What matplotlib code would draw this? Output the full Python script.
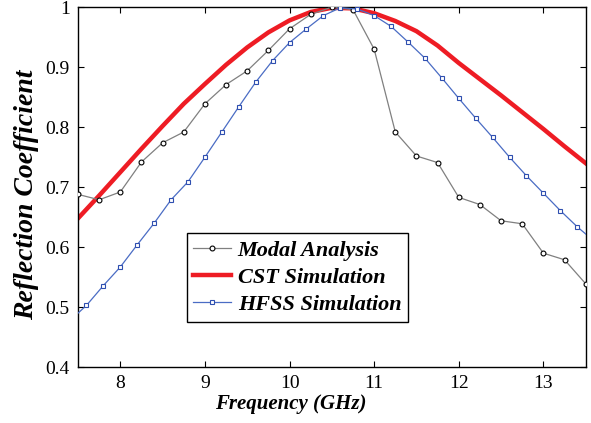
import numpy as np
import matplotlib.pyplot as plt

plt.rcParams['font.family'] = ['Liberation Serif', 'DejaVu Serif']
plt.rcParams['mathtext.fontset'] = 'stix'

# Modal analysis (step 0.25 GHz)
modal_f = [7.5, 7.75, 8.0, 8.25, 8.5, 8.75, 9.0, 9.25, 9.5, 9.75, 10.0, 10.25, 10.5,
           10.75, 11.0, 11.25, 11.5, 11.75, 12.0, 12.25, 12.5, 12.75, 13.0, 13.25, 13.5]
modal_r = [0.688, 0.679, 0.692, 0.742, 0.774, 0.792, 0.839, 0.871, 0.894, 0.928, 0.964, 0.988, 1.0,
           0.996, 0.930, 0.792, 0.752, 0.741, 0.683, 0.671, 0.644, 0.639, 0.590, 0.579, 0.539]

# CST simulation
cst_f = [7.5, 7.75, 8.0, 8.25, 8.5, 8.75, 9.0, 9.25, 9.5, 9.75, 10.0, 10.25, 10.5,
         10.75, 11.0, 11.25, 11.5, 11.75, 12.0, 12.25, 12.5, 12.75, 13.0, 13.25, 13.5]
cst_r = [0.648, 0.686, 0.725, 0.764, 0.802, 0.839, 0.872, 0.904, 0.933, 0.958, 0.978, 0.992, 0.999,
         0.998, 0.990, 0.977, 0.960, 0.936, 0.907, 0.880, 0.853, 0.825, 0.797, 0.768, 0.740]

# HFSS simulation (step 0.2 GHz, ends clipped by the axes)
hfss_f = [7.4, 7.6, 7.8, 8.0, 8.2, 8.4, 8.6, 8.8, 9.0, 9.2, 9.4, 9.6, 9.8, 10.0, 10.2, 10.4,
          10.6, 10.8, 11.0, 11.2, 11.4, 11.6, 11.8, 12.0, 12.2, 12.4, 12.6, 12.8, 13.0, 13.2,
          13.4, 13.6]
hfss_r = [0.477, 0.503, 0.536, 0.567, 0.604, 0.640, 0.679, 0.709, 0.750, 0.792, 0.834, 0.875,
          0.911, 0.941, 0.964, 0.986, 0.999, 0.997, 0.986, 0.968, 0.942, 0.915, 0.882, 0.848,
          0.815, 0.783, 0.750, 0.719, 0.690, 0.661, 0.634, 0.610]

fig = plt.figure(figsize=(5.91, 4.23), dpi=100)
ax = fig.add_axes([0.132, 0.132, 0.859, 0.851])

ax.plot(modal_f, modal_r, color='#808080', lw=0.9, marker='o', ms=3.5,
        mfc='white', mec='black', mew=0.8, label='Modal Analysis', zorder=3)
ax.plot(cst_f, cst_r, color='#ee1c24', lw=3.2, solid_joinstyle='round',
        label='CST Simulation', zorder=2)
ax.plot(hfss_f, hfss_r, color='#4a6cc4', lw=0.9, marker='s', ms=3.5,
        mfc='white', mec='#2f4fb0', mew=0.8, label='HFSS Simulation', zorder=4)

ax.set_xlim(7.5, 13.5)
ax.set_ylim(0.4, 1.0)
ax.set_xticks([8, 9, 10, 11, 12, 13])
ax.set_yticks([0.4, 0.5, 0.6, 0.7, 0.8, 0.9, 1.0])
ax.set_yticklabels(['0.4', '0.5', '0.6', '0.7', '0.8', '0.9', '1'])
ax.tick_params(direction='in', top=True, right=True, length=4, width=0.8,
               labelsize=14, pad=6)
for s in ax.spines.values():
    s.set_linewidth(1.0)

ax.set_xlabel('Frequency (GHz)', fontsize=15, fontweight='bold', style='italic')
ax.xaxis.set_label_coords(0.42, -0.075)
ax.set_ylabel('Reflection Coefficient', fontsize=20, fontweight='bold', style='italic')
ax.yaxis.set_label_coords(-0.077, 0.478)

leg = ax.legend(loc='lower left', bbox_to_anchor=(0.214, 0.126), borderaxespad=0,
                fancybox=False, framealpha=1, edgecolor='black',
                prop={'size': 16, 'weight': 'bold', 'style': 'italic'},
                handlelength=1.7, handletextpad=0.3, labelspacing=0.3,
                borderpad=0.3)
leg.get_frame().set_linewidth(1.0)

fig.savefig('out.png', dpi=100)
